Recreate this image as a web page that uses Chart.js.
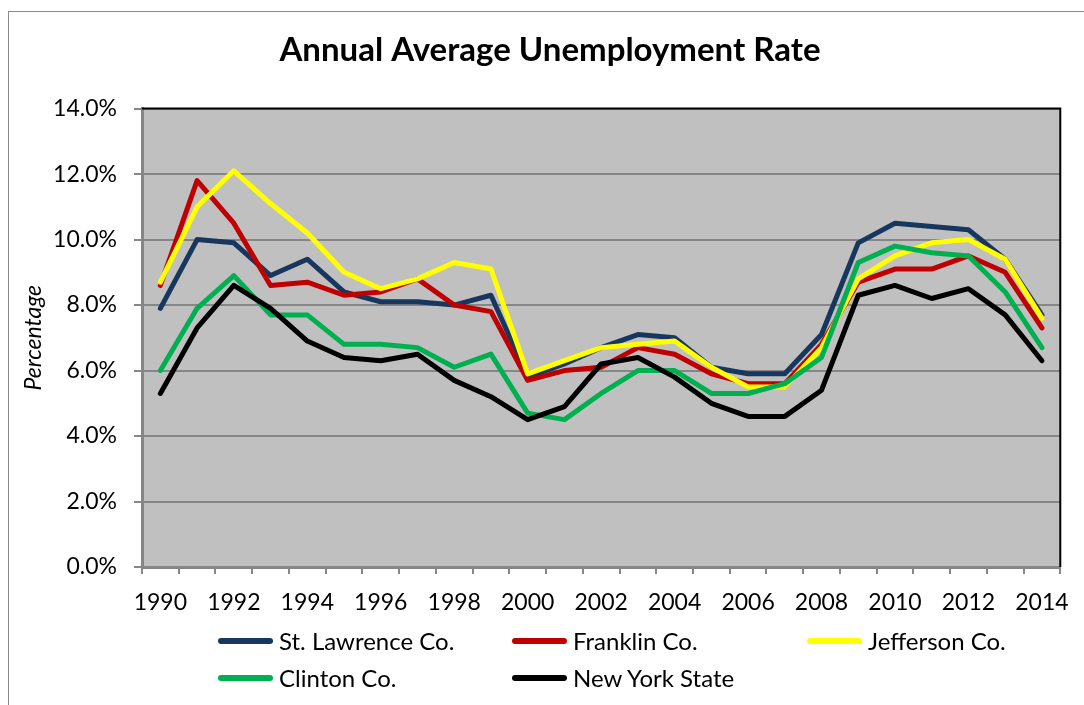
<!DOCTYPE html>
<html>
<head>
<meta charset="utf-8">
<title>Annual Average Unemployment Rate</title>
<script src="https://cdn.jsdelivr.net/npm/chart.js@4.4.0/dist/chart.umd.min.js"></script>
<style>
  body { margin: 0; background: #fff; }
  #wrap { position: relative; width: 1084px; height: 705px; overflow: hidden; }
  #frame { position: absolute; left: 8px; top: 11px; right: -2px; bottom: -2px;
           border-left: 1px solid #8a8a8a; border-top: 1px solid #8a8a8a; }
  #chart { position: absolute; left: 0; top: 0; }
  .legItem { position: absolute; height: 30px; white-space: nowrap; }
  .legLine { position: absolute; left: 0; top: 12px; width: 55px; height: 6px; border-radius: 3px; }
  .legText { position: absolute; left: 61px; top: 0; font-family: Lato, sans-serif; font-size: 24px;
             line-height: 30px; color: #000; }
</style>
</head>
<body>
<div id="wrap">
  <div id="frame"></div>
  <canvas id="chart" width="1084" height="705"></canvas>
  <div id="legend"></div>
</div>
<script>
// Jahre (Kategorien)
const years = ['1990', '1991', '1992', '1993', '1994', '1995', '1996', '1997', '1998', '1999',
               '2000', '2001', '2002', '2003', '2004', '2005', '2006', '2007', '2008', '2009',
               '2010', '2011', '2012', '2013', '2014'];

// Arbeitslosenquote in Prozent
const stLawrence = [7.9, 10.0, 9.9, 8.9, 9.4, 8.4, 8.1, 8.1, 8.0, 8.3, 5.8, 6.2, 6.7,
                    7.1, 7.0, 6.1, 5.9, 5.9, 7.1, 9.9, 10.5, 10.4, 10.3, 9.4, 7.7];
const franklin = [8.6, 11.8, 10.5, 8.6, 8.7, 8.3, 8.4, 8.8, 8.0, 7.8, 5.7, 6.0, 6.1,
                  6.7, 6.5, 5.9, 5.6, 5.6, 6.8, 8.7, 9.1, 9.1, 9.5, 9.0, 7.3];
const jefferson = [8.7, 11.0, 12.1, 11.1, 10.2, 9.0, 8.5, 8.8, 9.3, 9.1, 5.9, 6.3, 6.7,
                   6.8, 6.9, 6.1, 5.5, 5.5, 6.7, 8.8, 9.5, 9.9, 10.0, 9.4, 7.6];
const clinton = [6.0, 7.9, 8.9, 7.7, 7.7, 6.8, 6.8, 6.7, 6.1, 6.5, 4.7, 4.5, 5.3,
                 6.0, 6.0, 5.3, 5.3, 5.6, 6.4, 9.3, 9.8, 9.6, 9.5, 8.4, 6.7];
const newYorkState = [5.3, 7.3, 8.6, 7.9, 6.9, 6.4, 6.3, 6.5, 5.7, 5.2, 4.5, 4.9, 6.2,
                      6.4, 5.8, 5.0, 4.6, 4.6, 5.4, 8.3, 8.6, 8.2, 8.5, 7.7, 6.3];

const seriesNames = ['St. Lawrence Co.', 'Franklin Co.', 'Jefferson Co.', 'Clinton Co.', 'New York State'];
const seriesData = [stLawrence, franklin, jefferson, clinton, newYorkState];
const seriesColors = ['#17375E', '#C00000', '#FFFF00', '#00B050', '#000000'];

// Y-Achse 0 - 14 %
const yMin = 0;
const yMax = 14;
const yStep = 2;

const FONT = 'Lato, sans-serif';

// grauer Plot-Hintergrund + schwarzer Rahmen oben/rechts
const plotFrame = {
    id: 'plotFrame',
    beforeDraw(chart) {
        const { ctx, chartArea: a } = chart;
        ctx.save();
        ctx.fillStyle = '#C0C0C0';
        ctx.fillRect(a.left, a.top, a.right - a.left, a.bottom - a.top);
        ctx.restore();
    },
    afterDraw(chart) {
        const { ctx, chartArea: a } = chart;
        ctx.save();
        ctx.strokeStyle = '#000';
        ctx.lineWidth = 2;
        ctx.beginPath();
        ctx.moveTo(a.left, a.top);
        ctx.lineTo(a.right, a.top);
        ctx.lineTo(a.right, a.bottom);
        ctx.stroke();
        ctx.restore();
    }
};

const datasets = seriesNames.map((name, i) => ({
    label: name,
    data: seriesData[i],
    borderColor: seriesColors[i],
    backgroundColor: seriesColors[i],
    borderWidth: 5,
    borderCapStyle: 'round',
    borderJoinStyle: 'round',
    pointRadius: 0,
    tension: 0,
    order: seriesNames.length - i // spätere Serien liegen oben
}));

new Chart(document.getElementById('chart'), {
    type: 'line',
    data: { labels: years, datasets: datasets },
    options: {
        responsive: false,
        animation: false,
        layout: { padding: { left: 36, right: 20, top: 0, bottom: 90 } },
        plugins: {
            legend: { display: false },
            tooltip: { enabled: false },
            title: {
                display: true,
                text: 'Annual Average Unemployment Rate',
                color: '#000',
                font: { family: FONT, size: 33, weight: 'bold' },
                padding: { top: 31, bottom: 38 }
            }
        },
        scales: {
            x: {
                offset: true,
                afterFit: scale => { scale.height = 48; },
                grid: { offset: true, drawOnChartArea: false, color: '#868686', lineWidth: 2, tickLength: 7 },
                border: { color: '#868686', width: 3 },
                ticks: {
                    autoSkip: false,
                    maxRotation: 0,
                    padding: 15,
                    color: '#000',
                    font: { family: FONT, size: 23 },
                    callback: (v, i) => (i % 2 === 0 ? years[i] : '')
                }
            },
            y: {
                min: yMin,
                max: yMax,
                afterFit: scale => { scale.width = 106; },
                grid: { color: '#868686', lineWidth: 2, tickLength: 8 },
                border: { color: '#868686', width: 3 },
                ticks: {
                    stepSize: yStep,
                    padding: 17,
                    color: '#000',
                    font: { family: FONT, size: 23 },
                    callback: v => v.toFixed(1) + '%'
                },
                title: {
                    display: true,
                    text: 'Percentage',
                    color: '#000',
                    font: { family: FONT, size: 23, style: 'italic' },
                    padding: { top: -16, bottom: 0 }
                }
            }
        }
    },
    plugins: [plotFrame]
});

// Legende: drei Spalten, zwei Zeilen
const legendCols = [218, 512, 807];
const legendRows = [626, 663];
const legend = document.getElementById('legend');
seriesNames.forEach((name, i) => {
    const item = document.createElement('div');
    item.className = 'legItem';
    item.style.left = legendCols[i % 3] + 'px';
    item.style.top = legendRows[Math.floor(i / 3)] + 'px';
    item.innerHTML = `<span class="legLine" style="background:${seriesColors[i]}"></span>` +
                     `<span class="legText">${name}</span>`;
    legend.appendChild(item);
});
</script>
</body>
</html>
